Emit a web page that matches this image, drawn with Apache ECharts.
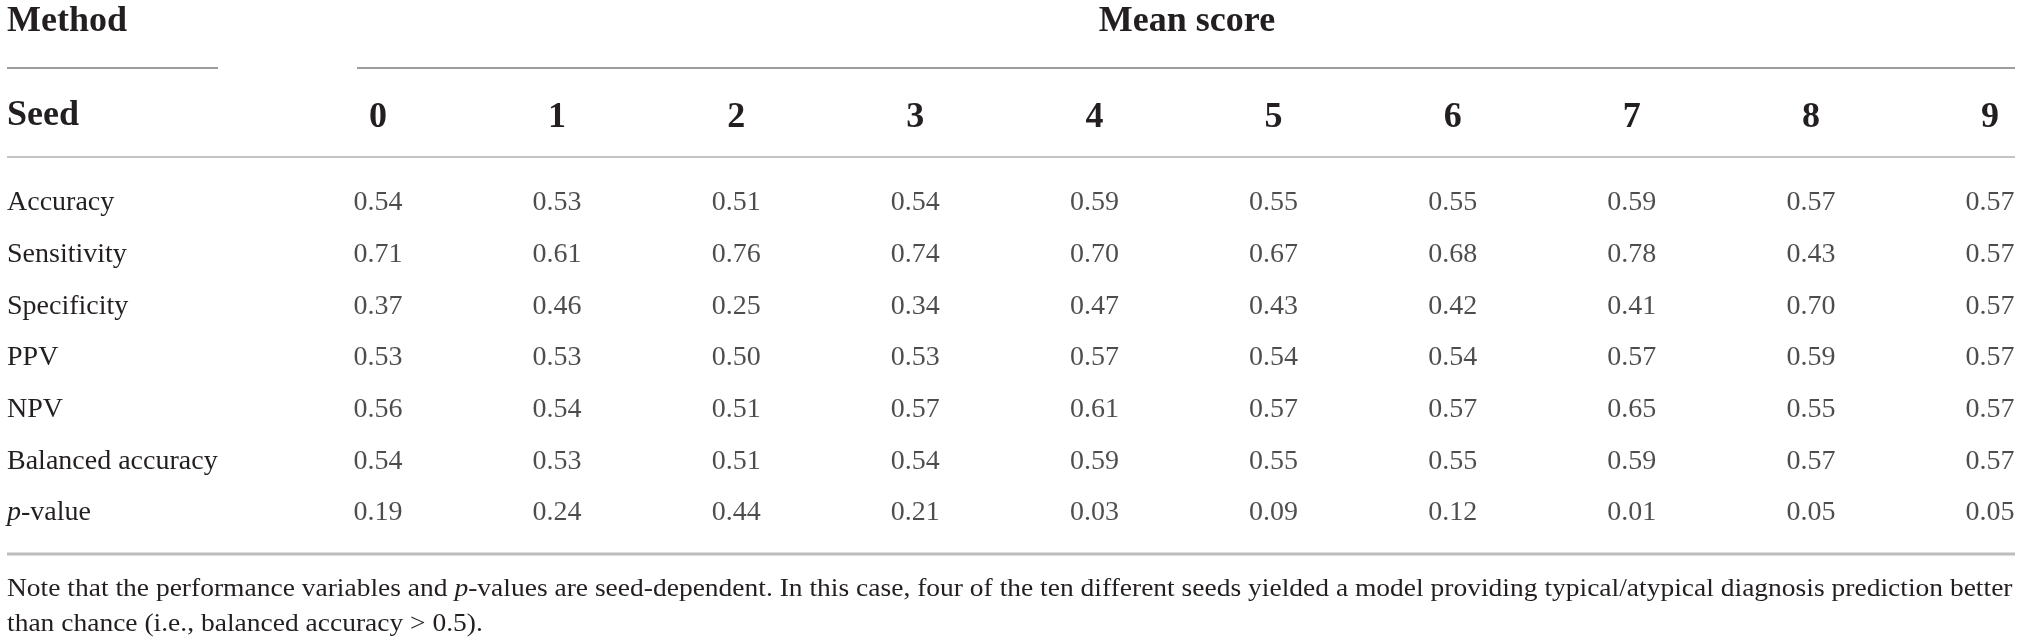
<!DOCTYPE html>
<html>
<head>
<meta charset="utf-8">
<title>Mean score by seed</title>
<script src="https://cdn.jsdelivr.net/npm/echarts@6/dist/echarts.min.js"></script>
<style>
  html, body { margin: 0; padding: 0; background: #fff; }
  #main { width: 2021px; height: 644px; }
</style>
</head>
<body>
<div id="main"></div>
<script>
// seeds (columns) and metrics (rows)
const seeds = ["0", "1", "2", "3", "4", "5", "6", "7", "8", "9"];
const metrics = ["Accuracy", "Sensitivity", "Specificity", "PPV", "NPV", "Balanced accuracy", "p-value"];

// mean score per seed, one array per metric
const accuracy = [0.54, 0.53, 0.51, 0.54, 0.59, 0.55, 0.55, 0.59, 0.57, 0.57];
const sensitivity = [0.71, 0.61, 0.76, 0.74, 0.70, 0.67, 0.68, 0.78, 0.43, 0.57];
const specificity = [0.37, 0.46, 0.25, 0.34, 0.47, 0.43, 0.42, 0.41, 0.70, 0.57];
const ppv = [0.53, 0.53, 0.50, 0.53, 0.57, 0.54, 0.54, 0.57, 0.59, 0.57];
const npv = [0.56, 0.54, 0.51, 0.57, 0.61, 0.57, 0.57, 0.65, 0.55, 0.57];
const balancedAccuracy = [0.54, 0.53, 0.51, 0.54, 0.59, 0.55, 0.55, 0.59, 0.57, 0.57];
const pValue = [0.19, 0.24, 0.44, 0.21, 0.03, 0.09, 0.12, 0.01, 0.05, 0.05];

const rows = [accuracy, sensitivity, specificity, ppv, npv, balancedAccuracy, pValue];

const noteLines = [
  "Note that the performance variables and {i|p}-values are seed-dependent. In this case, four of the ten different seeds yielded a model providing typical/atypical diagnosis prediction better",
  "than chance (i.e., balanced accuracy > 0.5)."
];

const serif = "'Liberation Serif', 'DejaVu Serif', serif";
const ink = "#231f20";

let myChart = echarts.init(document.getElementById("main"), null, { renderer: "canvas" });

// one text-only scatter series per metric row
const series = rows.map(function (vals, r) {
  return {
    name: metrics[r],
    type: "scatter",
    symbolSize: 0,
    silent: true,
    data: vals.map(function (v, c) { return [c, r, v]; }),
    label: {
      show: true,
      position: "inside",
      formatter: function (p) { return p.value[2].toFixed(2); },
      fontFamily: serif,
      fontSize: 28,
      color: ink,
    },
  };
});

let option = {
  backgroundColor: "#fff",
  animation: false,
  grid: { left: 378, right: 31, top: 203, bottom: 131, containLabel: false },
  xAxis: {
    type: "category",
    position: "top",
    data: seeds,
    boundaryGap: false,
    axisLine: { show: false },
    axisTick: { show: false },
    splitLine: { show: false },
    axisLabel: {
      margin: 85,
      verticalAlign: "middle",
      fontFamily: serif,
      fontWeight: "bold",
      fontSize: 36,
      color: ink,
    },
  },
  yAxis: {
    type: "category",
    data: metrics,
    inverse: true,
    boundaryGap: false,
    axisLine: { show: false },
    axisTick: { show: false },
    splitLine: { show: false },
    axisLabel: {
      align: "left",
      margin: 371,
      fontFamily: serif,
      fontSize: 28,
      color: ink,
      formatter: function (v) {
        return v === "p-value" ? "{i|p}-value" : v;
      },
      rich: {
        i: { fontFamily: serif, fontStyle: "italic", fontSize: 28, color: ink },
      },
    },
  },
  graphic: [
    {
      type: "text", left: 7, top: 4,
      style: { text: "Method", font: "bold 36px " + serif, fill: ink },
    },
    {
      type: "text", x: 1187, y: 4,
      style: { text: "Mean score", font: "bold 36px " + serif, fill: ink, align: "center" },
    },
    {
      type: "text", left: 7, top: 98,
      style: { text: "Seed", font: "bold 36px " + serif, fill: ink },
    },
    // table rules
    { type: "line", shape: { x1: 7, y1: 68, x2: 218, y2: 68 }, style: { stroke: "#7d7d7d", lineWidth: 1.5 } },
    { type: "line", shape: { x1: 357, y1: 68, x2: 2015, y2: 68 }, style: { stroke: "#7d7d7d", lineWidth: 1.5 } },
    { type: "line", shape: { x1: 7, y1: 157, x2: 2015, y2: 157 }, style: { stroke: "#c4c4c4", lineWidth: 2 } },
    { type: "line", shape: { x1: 7, y1: 554, x2: 2015, y2: 554 }, style: { stroke: "#bcbcbc", lineWidth: 3 } },
    {
      type: "text", x: 7, y: 572, scaleX: 1.1,
      style: {
        text: noteLines.join("\n"),
        font: "25px " + serif,
        fill: ink,
        lineHeight: 35,
        rich: {
          i: { font: "italic 25px " + serif, fill: ink, lineHeight: 35 },
        },
      },
    },
  ],
  series: series,
};

myChart.setOption(option);
</script>
</body>
</html>
